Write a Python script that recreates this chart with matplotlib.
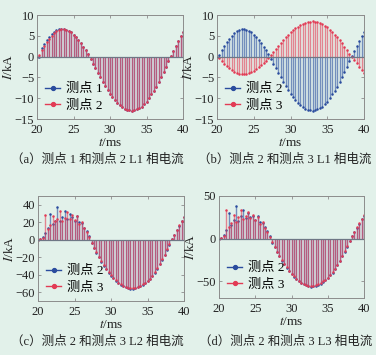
import numpy as np
import matplotlib
matplotlib.use('Agg')
import matplotlib.pyplot as plt
from matplotlib.lines import Line2D
from matplotlib.legend_handler import HandlerLine2D

# ── Colours / fonts ────────────────────────────────────────────────────────
BG = '#e2f1ea'
C_BLUE = '#2a4c9e'
C_RED = '#e23b55'
C_BASE = '#6f7785'
C_SPINE = '#8c8c8c'
C_TEXT = '#222222'
SERIF = ['Liberation Serif', 'Noto Sans CJK SC']

plt.rcParams.update({
    'font.family': SERIF,
    'mathtext.fontset': 'stix',
    'font.size': 8,
    'axes.unicode_minus': True,
})

# ── Data (sampled phase currents, kA) ──────────────────────────────────────
t_ms = np.linspace(20, 40, 61)   # sampling instants, ms

L1_p1 = [0, 0, 2.0, 3.0, 3.9, 4.7, 5.4, 5.9, 6.4, 6.6, 6.7, 6.6, 6.4, 6.2, 5.8, 5.3,
         4.7, 4.0, 3.2, 2.4, 1.5, 0.6, -0.5, -1.7, -2.8, -3.9, -5.0, -6.1, -7.1, -8.1,
         -8.9, -9.7, -10.5, -11.1, -11.7, -12.2, -12.5, -12.8, -12.9, -13.0, -12.9,
         -12.7, -12.4, -12.0, -11.4, -10.8, -10.0, -9.1, -8.2, -7.2, -6.0, -4.9, -3.7,
         -2.4, -1.1, 0.1, 1.3, 2.5, 3.7, 4.9, 6.0]
L1_p2 = [0, 0.4, 1.6, 2.6, 3.5, 4.3, 5.0, 5.6, 6.1, 6.4, 6.6, 6.6, 6.4, 6.2, 5.8, 5.3,
         4.7, 4.0, 3.2, 2.4, 1.5, 0.6, -0.5, -1.7, -2.8, -3.9, -5.0, -6.1, -7.1, -8.1,
         -8.9, -9.7, -10.5, -11.1, -11.7, -12.2, -12.5, -12.8, -12.9, -13.0, -12.9,
         -12.7, -12.4, -12.0, -11.4, -10.8, -10.0, -9.1, -8.2, -7.2, -6.0, -4.9, -3.7,
         -2.4, -1.1, 0.1, 1.3, 2.5, 3.7, 4.9, 6.0]
L1_p3 = [0, -0.3, -1.0, -1.7, -2.3, -2.8, -3.3, -3.6, -4.0, -4.2, -4.3, -4.3, -4.2,
         -4.0, -3.8, -3.4, -3.1, -2.6, -2.1, -1.6, -1.0, -0.4, 0.3, 1.1, 1.8, 2.5, 3.3,
         4.0, 4.6, 5.3, 5.8, 6.3, 6.8, 7.2, 7.6, 7.9, 8.1, 8.3, 8.4, 8.5, 8.4, 8.3, 8.1,
         7.8, 7.4, 7.0, 6.5, 5.9, 5.3, 4.7, 3.9, 3.2, 2.4, 1.6, 0.7, -0.1, -0.8, -1.6,
         -2.4, -3.2, -3.9]

L2_p2 = [0, 1, 3, 8, 14, 30, 18, 22, 37, 22, 26, 33, 24, 29, 26, 22, 27, 20, 19, 14,
         10, 4, -4, -9.5, -15, -20, -25, -29.5, -33.5, -37.5, -41, -44, -47, -49.5,
         -51.5, -53, -54.5, -55.5, -56, -56, -55.5, -54.5, -53, -51.5, -49.5, -47.5,
         -45, -41.5, -37.5, -33, -28, -23, -17.5, -11.5, -5.5, 0.5, 5.6, 10.8, 15.9,
         21.1, 25.8]
L2_p3 = [0, 0.5, 2, 28, 12, 17, 27, 21, 24, 33, 22, 25, 32, 24, 28, 23, 27, 18, 20,
         13, 9, 3, -3.5, -9, -14.5, -19.5, -24.5, -29, -33, -37, -40.5, -43.5, -46.5,
         -49, -51, -52.5, -54, -55, -55.5, -55.5, -55, -54, -52.5, -51, -49, -47,
         -44.5, -41, -37, -32.5, -27.5, -22.5, -17, -11, -5, 1, 6, 11.2, 16.3, 21.5,
         26.2]

L3_p2 = [0, 1, 4, 10, 30, 16, 22, 38, 21, 27, 34, 24, 30, 25, 27, 22, 26, 19, 18, 13,
         9, 3, -5, -10.5, -16, -21, -26, -30.5, -34.5, -38.5, -42, -45, -48, -50.5,
         -52.5, -54, -55, -56, -56.5, -56, -55.5, -54.5, -53, -51, -49, -46.5, -43.5,
         -40, -36, -31.5, -26.5, -21, -15.5, -9.5, -3.5, 2.5, 7.5, 12.5, 17.5, 22.5, 27]
L3_p3 = [0, 0.5, 3, 33, 13, 18, 28, 20, 25, 34, 23, 26, 31, 24, 28, 22, 25, 17, 19,
         12, 8, 2, -4.5, -10, -15.5, -20.5, -25.5, -30, -34, -38, -41.5, -44.5, -47.5,
         -50, -52, -53.5, -54.5, -55.5, -56, -55.5, -55, -54, -52.5, -50.5, -48.5, -46,
         -43, -39.5, -35.5, -31, -26, -20.5, -15, -9, -3, 3, 8, 13, 18, 23, 27.5]

PANELS = [
    # (blue series, red series, blue label, red label, ylim, yticks, caption)
    (L1_p1, L1_p2, '测点 1', '测点 2', (-15, 10), [-15, -10, -5, 0, 5, 10],
     '（a）测点 1 和测点 2 L1 相电流'),
    (L1_p2, L1_p3, '测点 2', '测点 3', (-15, 10), [-15, -10, -5, 0, 5, 10],
     '（b）测点 2 和测点 3 L1 相电流'),
    (L2_p2, L2_p3, '测点 2', '测点 3', (-70, 50), [-60, -40, -20, 0, 20, 40],
     '（c）测点 2 和测点 3 L2 相电流'),
    (L3_p2, L3_p3, '测点 2', '测点 3', (-70, 50), [-50, 0, 50],
     '（d）测点 2 和测点 3 L3 相电流'),
]

# axes boxes in pixels (left, top, right, bottom) and caption centres
W, H = 376, 355
BOXES = [(37, 15, 183, 119), (217, 15, 364, 119), (38, 196, 184, 301), (219, 196, 364, 298)]
CAPTIONS = [(97, 160), (285, 160), (97, 342), (286, 342)]


class EndDotHandler(HandlerLine2D):
    """Legend line with its marker at the right end (MATLAB stem style)."""
    def get_xdata(self, legend, xdescent, ydescent, width, height, fontsize):
        xdata = np.array([-xdescent, width - xdescent])
        return xdata, np.array([width - xdescent])


fig = plt.figure(figsize=(W / 100, H / 100), dpi=100, facecolor=BG)

for (yb, yr, lb, lr, ylim, yticks, cap), (l, tp, r, b), (cx, cy) in zip(PANELS, BOXES, CAPTIONS):
    ax = fig.add_axes([l / W, 1 - b / H, (r - l) / W, (b - tp) / H])
    ax.set_facecolor(BG)

    for ys, c in [(yb, C_BLUE), (yr, C_RED)]:
        ml, sl, bl = ax.stem(t_ms, ys, basefmt=' ')
        plt.setp(sl, color=c, lw=1.0, alpha=0.6)
        plt.setp(ml, color=c, marker='o', ms=1.8, mew=0)
    ax.axhline(0, color=C_BASE, lw=0.9, zorder=3)

    ax.set_xlim(20, 40)
    ax.set_ylim(*ylim)
    ax.set_xticks([20, 25, 30, 35, 40])
    ax.set_yticks(yticks)
    ax.tick_params(direction='in', length=2.5, width=0.6, top=True, right=True,
                   labelsize=9, colors=C_SPINE, labelcolor=C_TEXT, pad=2)
    ax.tick_params(axis='x', pad=3.5)
    for sp in ax.spines.values():
        sp.set_color(C_SPINE)
        sp.set_linewidth(0.7)
    ax.set_xlabel(r'$t$/ms', fontsize=9.5, color=C_TEXT, labelpad=1)
    ax.set_ylabel(r'$I$/kA', fontsize=9.5, color=C_TEXT, labelpad=0)

    handles = [Line2D([0, 1], [0, 0], color=C_BLUE, lw=1.0, marker='o', ms=2.8),
               Line2D([0, 1], [0, 0], color=C_RED, lw=1.0, marker='o', ms=2.8)]
    ax.legend(handles, [lb, lr], loc='lower left', bbox_to_anchor=(-0.02, -0.03),
              frameon=False, handlelength=1.2, handler_map={Line2D: EndDotHandler()},
              handletextpad=0.45, labelspacing=0.3, borderaxespad=0.4,
              prop={'family': SERIF, 'size': 9.5})

    fig.text(cx / W, 1 - cy / H, cap, ha='center', va='center', fontsize=9,
             color=C_TEXT, family=SERIF)

fig.savefig('out.png', dpi=100, facecolor=BG)
